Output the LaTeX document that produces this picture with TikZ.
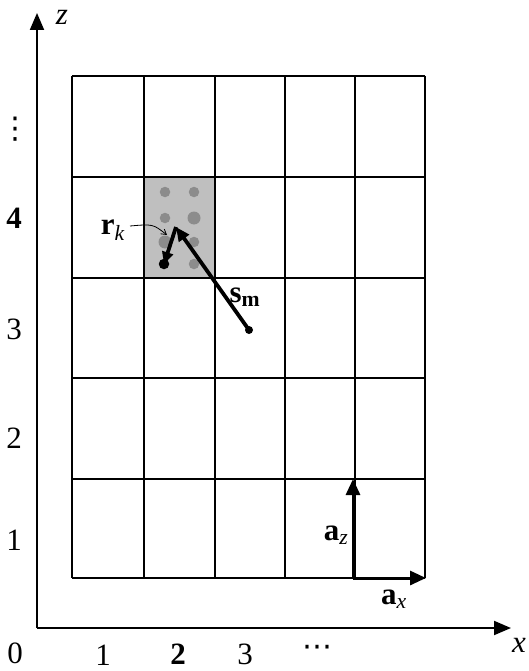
\documentclass[tikz,border=0pt]{standalone}
\usepackage{fontspec}
\setmainfont{Liberation Serif}
\newfontfamily\symfont{DejaVu Sans}
\usetikzlibrary{arrows.meta}
\begin{document}
\begin{tikzpicture}[x=1pt,y=-1pt,
  lbl/.style={inner sep=0pt,font=\fontsize{31}{36}\selectfont},
  ilbl/.style={inner sep=0pt,font=\fontsize{31}{36}\selectfont\itshape},
  slbl/.style={inner sep=0pt,font=\symfont\fontsize{30}{34}\selectfont},
  gridline/.style={line width=1.9pt},
  axisline/.style={line width=1.9pt,-{Triangle[length=17pt,width=14pt]}},
  bigarrow/.style={line width=3.8pt,-{Triangle[length=14pt,width=12pt]}},
  unitarrow/.style={line width=3pt,-{Triangle[length=16pt,width=14pt]}},
  thinarrow/.style={line width=0.8pt,-{Straight Barb[length=5pt,width=6pt]}},
  gdot/.style={circle,fill=black!45,inner sep=0pt,minimum size=10.5pt},
  gdotbig/.style={circle,fill=black!45,inner sep=0pt,minimum size=13pt},
  bdot/.style={circle,fill=black,inner sep=0pt,minimum size=10.5pt}]
\useasboundingbox (0,0) rectangle (528,671);
% shaded cell
\fill[black!25] (144,177) rectangle (215,278);
% dots
\node[gdot] (d1) at (165,192) {};
\node[gdot] (d2) at (194,192) {};
\node[gdot] (d3) at (165,218) {};
\node[gdotbig] (d4) at (194,218) {};
\node[gdotbig] (d5) at (165,242) {};
\node[gdot] (d6) at (194,242) {};
\node[gdot] (d8) at (194,264) {};
% grid
\foreach \x in {72,144,215,285,355,425} \draw[gridline] (\x,76) -- (\x,578);
\foreach \y in {76,177,278,378,479,578} \draw[gridline] (72,\y) -- (425,\y);
% axes
\coordinate (O) at (37,628);
\coordinate (xend) at (511,628);
\coordinate (zend) at (37,13);
\draw[axisline] (O) -- (xend);
\draw[axisline] (O) -- (zend);
\node[ilbl] (xl) at (519,645) {x};
\node[ilbl] (zl) at (62,17) {z};
% axis tick labels
\node[lbl] (z0) at (15,653) {0};
\node[lbl] (z1) at (14,540) {1};
\node[lbl] (z2) at (14,438) {2};
\node[lbl] (z3) at (14,329) {3};
\node[lbl] (z4) at (14,218) {\textbf{4}};
\node[slbl] (zd) at (15,129) {⋮};
\node[lbl] (x1) at (103,655) {1};
\node[lbl] (x2) at (178,654) {\textbf{2}};
\node[lbl] (x3) at (245,654) {3};
\node[slbl] (xd) at (317,651) {⋯};
% vectors
\coordinate (tip) at (176,227);
\node[bdot] (d7) at (164,264) {};
\node[circle,fill=black,inner sep=0pt,minimum size=8pt] (sm0) at (249,330) {};
\draw[bigarrow] (sm0.center) -- (tip);
\draw[line width=3.8pt,-{Triangle[length=12pt,width=11pt]}] (tip) -- (d7.center);
\node[lbl] (smlbl) at (245,297) {\textbf{s}\textsubscript{\textbf{m}}};
\node[lbl] (rklbl) at (113,230) {\textbf{r}\textsubscript{\textit{k}}};
\draw[thinarrow] (130,226) .. controls (153,224) .. (167,235);
% unit vectors
\coordinate (a0) at (353,578);
\coordinate (az) at (353,479);
\coordinate (ax) at (426,578);
\draw[unitarrow] (a0) -- (az);
\draw[unitarrow] (a0) -- (ax);
\node[lbl] (azl) at (336,535) {\textbf{a}\textsubscript{\textit{z}}};
\node[lbl] (axl) at (394,599) {\textbf{a}\textsubscript{\textit{x}}};
\end{tikzpicture}
\end{document}
